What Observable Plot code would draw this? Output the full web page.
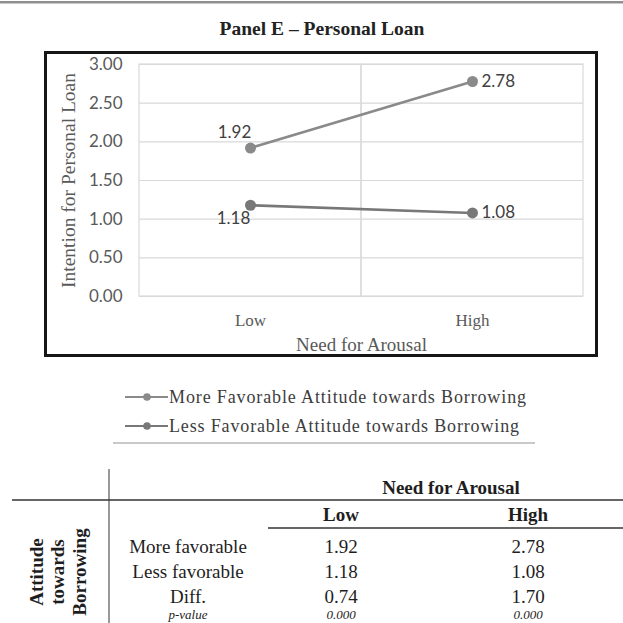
<!DOCTYPE html>
<html>
<head>
<meta charset="utf-8">
<script src="https://cdn.jsdelivr.net/npm/d3@7"></script>
<script src="https://cdn.jsdelivr.net/npm/@observablehq/plot@0.6"></script>
<style>
  html, body { margin: 0; padding: 0; background: #fff; }
  #page { position: relative; width: 623px; height: 623px; overflow: hidden; }
  #page > svg.back { position: absolute; left: 0; top: 0; }
  #chart { position: absolute; left: 44px; top: 51px; }
  #chart > svg { display: block; border: 3px solid #161616; }
</style>
</head>
<body>
<div id="page"><div id="chart"></div></div>
<script>
// Need-for-arousal levels and the two attitude groups
const levels = ["Low", "High"];
const seriesNames = [
  "More Favorable Attitude towards Borrowing",
  "Less Favorable Attitude towards Borrowing"
];
const moreFavorable = [1.92, 2.78];
const lessFavorable = [1.18, 1.08];
const yTicks = [0, 0.5, 1, 1.5, 2, 2.5, 3];

// Summary table
const rowLabels = ["More favorable", "Less favorable", "Diff."];
const diffValues = [0.74, 1.70];
const pValues = ["0.000", "0.000"];

const seriesColors = ["#8a8a8a", "#787878"];

const data = levels.flatMap((level, i) => [
  {series: seriesNames[0], key: "more", level, value: moreFavorable[i]},
  {series: seriesNames[1], key: "less", level, value: lessFavorable[i]}
]);

const serif = "'Liberation Serif', 'DejaVu Serif', serif";
const sans = "Lato, 'Open Sans', sans-serif";
const fmt = d => d.toFixed(2);

// ---- line chart ----
const chart = Plot.plot({
  width: 548,
  height: 300,
  marginLeft: 92,
  marginRight: 12,
  marginTop: 10,
  marginBottom: 58,
  style: {background: "#fff", overflow: "visible"},
  x: {type: "band", domain: levels, padding: 0},
  y: {domain: [0, 3]},
  color: {domain: seriesNames, range: seriesColors},
  marks: [
    Plot.gridY(yTicks, {stroke: "#d9d9d9", strokeOpacity: 1, strokeWidth: 1.2}),
    Plot.cell(levels, {x: d => d, fill: "none", stroke: "#d9d9d9", strokeWidth: 1.2, inset: 0}),
    Plot.axisY(yTicks, {
      tickSize: 0, tickPadding: 17, tickFormat: fmt, label: null,
      fontFamily: sans, fontSize: 17, fill: "#595959"
    }),
    Plot.axisX({
      tickSize: 0, tickPadding: 17, label: null,
      fontFamily: serif, fontSize: 17, fill: "#595959"
    }),
    Plot.text(["Intention for Personal Loan"], {
      frameAnchor: "left", textAnchor: "middle", rotate: -90, dx: -71, text: d => d,
      fontFamily: serif, fontSize: 19.5, fill: "#595959"
    }),
    Plot.text(["Need for Arousal"], {
      frameAnchor: "bottom", dy: 54, text: d => d,
      fontFamily: serif, fontSize: 19, fill: "#595959"
    }),
    Plot.line(data, {x: "level", y: "value", z: "series", stroke: "series", strokeWidth: 2.6}),
    Plot.dot(data, {x: "level", y: "value", fill: "series", r: 5.5}),
    // value labels: left of the Low points, right of the High points
    Plot.text(data.filter(d => d.level === "Low" && d.key === "more"), {
      x: "level", y: "value", text: d => fmt(d.value), dx: -16, dy: -15,
      fontFamily: sans, fontSize: 17, fill: "#404040"
    }),
    Plot.text(data.filter(d => d.level === "Low" && d.key === "less"), {
      x: "level", y: "value", text: d => fmt(d.value), dx: -17, dy: 13,
      fontFamily: sans, fontSize: 17, fill: "#404040"
    }),
    Plot.text(data.filter(d => d.level === "High"), {
      x: "level", y: "value", text: d => fmt(d.value), dx: 9, textAnchor: "start",
      fontFamily: sans, fontSize: 17, fill: "#404040"
    })
  ]
});
document.getElementById("chart").appendChild(chart);

// ---- title, legend and table ----
const svg = d3.select("#page").insert("svg", ":first-child")
  .attr("class", "back").attr("width", 623).attr("height", 623);

svg.append("rect").attr("x", 0).attr("y", 1).attr("width", 623).attr("height", 2.5).attr("fill", "#8f8f8f");

svg.append("text").text("Panel E \u2013 Personal Loan")
  .attr("x", 322).attr("y", 28).attr("text-anchor", "middle").attr("dominant-baseline", "central")
  .attr("font-family", serif).attr("font-weight", "bold").attr("font-size", 19.5).attr("fill", "#222");

// legend
const legendWidths = [357, 350];
seriesNames.forEach((name, i) => {
  const y = 397 + i * 29;
  const g = svg.append("g");
  g.append("line").attr("x1", 125).attr("x2", 168).attr("y1", y).attr("y2", y)
    .attr("stroke", seriesColors[i]).attr("stroke-width", 2.2);
  g.append("circle").attr("cx", 147).attr("cy", y).attr("r", 3.8).attr("fill", seriesColors[i]);
  g.append("text").text(name).attr("x", 169).attr("y", y).attr("dominant-baseline", "central")
    .attr("font-family", serif).attr("font-size", 18).attr("fill", "#3d3d3d")
    .attr("textLength", legendWidths[i]).attr("lengthAdjust", "spacing");
});
svg.append("line").attr("x1", 113).attr("x2", 535).attr("y1", 443).attr("y2", 443)
  .attr("stroke", "#c9c9c9").attr("stroke-width", 2);

// table rules
const ink = "#1e1e1e";
svg.append("line").attr("x1", 109).attr("x2", 109).attr("y1", 469).attr("y2", 623)
  .attr("stroke", "#555").attr("stroke-width", 1.2);
svg.append("line").attr("x1", 12).attr("x2", 623).attr("y1", 500).attr("y2", 500)
  .attr("stroke", "#333").attr("stroke-width", 1.6);
svg.append("line").attr("x1", 268).attr("x2", 623).attr("y1", 528).attr("y2", 528)
  .attr("stroke", "#333").attr("stroke-width", 1.6);

const txt = (s, x, y, opts = {}) => svg.append("text").text(s)
  .attr("x", x).attr("y", y).attr("text-anchor", "middle").attr("dominant-baseline", "central")
  .attr("font-family", serif).attr("font-size", opts.size || 19)
  .attr("font-weight", opts.bold ? "bold" : null)
  .attr("font-style", opts.italic ? "italic" : null)
  .attr("fill", ink);

txt("Need for Arousal", 451, 487, {bold: true});
const colX = [341, 528];
levels.forEach((lv, j) => txt(lv, colX[j], 514, {bold: true}));

const rowY = [546, 571, 596];
rowLabels.forEach((lab, i) => txt(lab, 188, rowY[i]));
txt("p-value", 188, 614, {italic: true, size: 13});

levels.forEach((lv, j) => {
  txt(fmt(moreFavorable[j]), colX[j], rowY[0]);
  txt(fmt(lessFavorable[j]), colX[j], rowY[1]);
  txt(fmt(diffValues[j]), colX[j], rowY[2]);
  txt(pValues[j], colX[j], 614, {italic: true, size: 13});
});

["Attitude", "towards", "Borrowing"].forEach((w, i) => {
  const x = 36 + i * 21.5;
  svg.append("text").text(w)
    .attr("transform", `translate(${x},572) rotate(-90)`)
    .attr("text-anchor", "middle").attr("dominant-baseline", "central")
    .attr("font-family", serif).attr("font-weight", "bold").attr("font-size", 19).attr("fill", ink);
});
</script>
</body>
</html>
